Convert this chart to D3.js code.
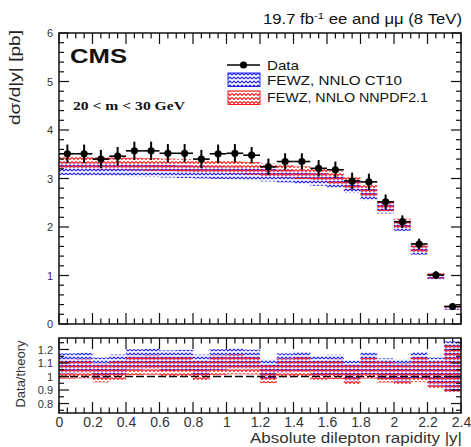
<!DOCTYPE html>
<html>
<head>
<meta charset="utf-8">
<script src="https://cdn.jsdelivr.net/npm/d3@7"></script>
<style>
  html, body { margin: 0; padding: 0; background: #fff; }
  svg { display: block; }
  text { font-family: "Liberation Sans", Arial, Helvetica, sans-serif; }
</style>
</head>
<body>
<div id="chart"></div>
<script>
// Drell-Yan differential cross section in |y|, 20 < m < 30 GeV
const binEdges = [0, 0.1, 0.2, 0.3, 0.4, 0.5, 0.6, 0.7, 0.8, 0.9, 1.0, 1.1, 1.2,
                  1.3, 1.4, 1.5, 1.6, 1.7, 1.8, 1.9, 2.0, 2.1, 2.2, 2.3, 2.4];
const dataVal = [3.51, 3.51, 3.40, 3.46, 3.57, 3.57, 3.52, 3.52, 3.40, 3.51, 3.52, 3.48,
                 3.24, 3.35, 3.35, 3.21, 3.18, 2.95, 2.93, 2.52, 2.11, 1.65, 1.01, 0.36];
const dataErr = [0.19, 0.19, 0.19, 0.19, 0.19, 0.19, 0.19, 0.19, 0.19, 0.19, 0.19, 0.17,
                 0.17, 0.17, 0.17, 0.17, 0.17, 0.17, 0.17, 0.15, 0.13, 0.11, 0.08, 0.045];
const ct10Val = [3.20, 3.19, 3.19, 3.18, 3.17, 3.16, 3.15, 3.14, 3.13, 3.12, 3.11, 3.09,
                 3.07, 3.05, 3.02, 2.98, 2.93, 2.83, 2.67, 2.39, 2.02, 1.52, 0.975, 0.335];
const ct10Err = [0.13, 0.13, 0.13, 0.13, 0.13, 0.13, 0.13, 0.13, 0.13, 0.13, 0.13, 0.13,
                 0.13, 0.13, 0.13, 0.13, 0.13, 0.13, 0.12, 0.11, 0.10, 0.09, 0.06, 0.04];
const nnpdfVal = [3.33, 3.32, 3.31, 3.31, 3.30, 3.29, 3.28, 3.27, 3.25, 3.24, 3.23, 3.21,
                  3.18, 3.15, 3.12, 3.07, 3.02, 2.90, 2.76, 2.44, 2.07, 1.57, 1.00, 0.34];
const nnpdfErr = [0.13, 0.13, 0.13, 0.13, 0.13, 0.13, 0.13, 0.13, 0.13, 0.13, 0.13, 0.13,
                  0.13, 0.13, 0.13, 0.13, 0.13, 0.13, 0.12, 0.11, 0.10, 0.09, 0.06, 0.04];

const xTicks = [0, 0.2, 0.4, 0.6, 0.8, 1, 1.2, 1.4, 1.6, 1.8, 2, 2.2, 2.4];
const yTopTicks = [0, 1, 2, 3, 4, 5, 6];
const ratioTicks = [0.8, 0.9, 1, 1.1, 1.2];

const W = 471, H = 447;
const svg = d3.select("#chart").append("svg").attr("width", W).attr("height", H);
svg.append("rect").attr("width", W).attr("height", H).attr("fill", "#fff");

// hatched fills for the theory bands
const defs = svg.append("defs");
function hatch(id, color, d) {
  const p = defs.append("pattern").attr("id", id)
    .attr("patternUnits", "userSpaceOnUse").attr("width", 4).attr("height", 4);
  p.append("path").attr("d", d).attr("stroke", color)
    .attr("stroke-width", 1.1).attr("fill", "none");
}
hatch("hatchBlue", "#2020ff", "M0,3 L2,1 L4,3");
hatch("hatchRed", "#ff1a1a", "M0,1.5 L2,3.5 L4,1.5");

const L = 59, R = 461;
const x = d3.scaleLinear().domain([0, 2.4]).range([L, R]);
const yTop = d3.scaleLinear().domain([0, 6]).range([324, 33]);
const yRat = d3.scaleLinear().domain([0.73, 1.285]).range([413, 338]);

const bins = dataVal.map((v, i) => ({
  lo: binEdges[i], hi: binEdges[i + 1], c: (binEdges[i] + binEdges[i + 1]) / 2,
  d: v, de: dataErr[i],
  ct: ct10Val[i], cte: ct10Err[i], nn: nnpdfVal[i], nne: nnpdfErr[i]
}));

function frameAxes(g, y, yMajor, yMinor, yTopPx, yBotPx, yFmt) {
  // x minor / major ticks on both edges
  const xMinor = d3.range(0, 2.4001, 0.05);
  [[yBotPx, 1], [yTopPx, -1]].forEach(([yy, dir]) => {
    g.append("g").selectAll("line").data(xMinor).join("line")
      .attr("x1", d => x(d)).attr("x2", d => x(d))
      .attr("y1", yy).attr("y2", d => yy - dir * (Math.abs(d * 5 - Math.round(d * 5)) < 1e-6 ? 11 : 5.5))
      .attr("stroke", "#111").attr("stroke-width", 1.2);
  });
  [[L, 1], [R, -1]].forEach(([xx, dir]) => {
    g.append("g").selectAll("line").data(yMinor).join("line")
      .attr("x1", xx).attr("y1", d => y(d)).attr("y2", d => y(d))
      .attr("x2", d => xx + dir * (yMajor.some(m => Math.abs(m - d) < 1e-6) ? 10 : 5))
      .attr("stroke", "#111").attr("stroke-width", 1.2);
  });
  g.append("rect").attr("x", L).attr("y", yTopPx).attr("width", R - L).attr("height", yBotPx - yTopPx)
    .attr("fill", "none").attr("stroke", "#111").attr("stroke-width", 1.5);
  const ax = d3.axisLeft(y).tickValues(yMajor).tickSize(0).tickPadding(6).tickFormat(yFmt);
  const ga = g.append("g").attr("transform", `translate(${L},0)`).call(ax);
  ga.select(".domain").remove();
  return ga;
}

// text helper: fixed drawn width, as in the wide ROOT Helvetica
function label(sel, x0, y0, size, len, str, anchor) {
  return sel.append("text").attr("x", x0).attr("y", y0).attr("font-size", size)
    .attr("text-anchor", anchor || "start")
    .attr("textLength", len).attr("lengthAdjust", "spacingAndGlyphs")
    .attr("fill", "#111").text(str);
}

// ---------- upper panel ----------
const upper = svg.append("g");
upper.selectAll(".bandB").data(bins).join("rect")
  .attr("x", d => x(d.lo)).attr("width", d => x(d.hi) - x(d.lo))
  .attr("y", d => yTop(d.ct + d.cte)).attr("height", d => yTop(d.ct - d.cte) - yTop(d.ct + d.cte))
  .attr("fill", "url(#hatchBlue)");
upper.selectAll(".bandR").data(bins).join("rect")
  .attr("x", d => x(d.lo)).attr("width", d => x(d.hi) - x(d.lo))
  .attr("y", d => yTop(d.nn + d.nne)).attr("height", d => yTop(d.nn - d.nne) - yTop(d.nn + d.nne))
  .attr("fill", "url(#hatchRed)");

const yTopMinor = d3.range(0, 6.0001, 0.2);
const gTopAx = frameAxes(upper, yTop, yTopTicks, yTopMinor, 33, 324, d3.format("d"));
gTopAx.selectAll("text").attr("font-size", 11).attr("fill", "#333");

// data points
const pts = upper.append("g");
pts.selectAll(".eh").data(bins).join("line")
  .attr("x1", d => x(d.lo)).attr("x2", d => x(d.hi))
  .attr("y1", d => yTop(d.d)).attr("y2", d => yTop(d.d))
  .attr("stroke", "#000").attr("stroke-width", 1.6);
pts.selectAll(".ev").data(bins).join("line")
  .attr("x1", d => x(d.c)).attr("x2", d => x(d.c))
  .attr("y1", d => yTop(d.d + d.de)).attr("y2", d => yTop(d.d - d.de))
  .attr("stroke", "#000").attr("stroke-width", 2);
pts.selectAll("circle").data(bins).join("circle")
  .attr("cx", d => x(d.c)).attr("cy", d => yTop(d.d)).attr("r", 3.6).attr("fill", "#000");

// labels
svg.append("text").attr("x", 462).attr("y", 24).attr("text-anchor", "end")
  .attr("font-size", 14).attr("fill", "#111")
  .attr("textLength", 199).attr("lengthAdjust", "spacingAndGlyphs")
  .call(t => {
    t.append("tspan").text("19.7 fb");
    t.append("tspan").attr("dy", -5).attr("font-size", 9.5).text("-1");
    t.append("tspan").attr("dy", 5).text(" ee and μμ (8 TeV)");
  });
label(svg, 70, 63, 19.5, 57, "CMS").attr("font-weight", "bold");
label(svg, 73, 110, 12.5, 112, "20 < m < 30 GeV")
  .style("font-family", "'Liberation Serif', 'Times New Roman', serif")
  .attr("font-weight", "bold");
svg.append("text").attr("transform", "translate(20,30) rotate(-90)").attr("text-anchor", "end")
  .attr("font-size", 15).attr("textLength", 95).attr("lengthAdjust", "spacingAndGlyphs")
  .attr("fill", "#222").text("dσ/d|y| [pb]");

// legend
const leg = svg.append("g");
leg.append("line").attr("x1", 227).attr("x2", 260).attr("y1", 65).attr("y2", 65)
  .attr("stroke", "#000").attr("stroke-width", 1.6);
leg.append("circle").attr("cx", 243.5).attr("cy", 65).attr("r", 3.6).attr("fill", "#000");
label(leg, 267, 70, 13.5, 32, "Data");
leg.append("rect").attr("x", 228).attr("y", 73).attr("width", 32).attr("height", 13.5)
  .attr("fill", "url(#hatchBlue)").attr("stroke", "#2020ff").attr("stroke-width", 1);
label(leg, 267, 84.5, 13.5, 135, "FEWZ, NNLO CT10");
leg.append("rect").attr("x", 228).attr("y", 91).attr("width", 32).attr("height", 13.5)
  .attr("fill", "url(#hatchRed)").attr("stroke", "#ff1a1a").attr("stroke-width", 1);
label(leg, 267, 102, 13.5, 161, "FEWZ, NNLO NNPDF2.1");

// ---------- ratio panel ----------
const rat = svg.append("g");
function relErr(d, t, te) {
  return Math.sqrt((d.de / d.d) ** 2 + (te / t) ** 2);
}
rat.selectAll(".rB").data(bins).join("rect")
  .attr("x", d => x(d.lo)).attr("width", d => x(d.hi) - x(d.lo))
  .attr("y", d => { const r = d.d / d.ct; return yRat(r * (1 + relErr(d, d.ct, d.cte))); })
  .attr("height", d => { const r = d.d / d.ct, e = relErr(d, d.ct, d.cte);
    return yRat(r * (1 - e)) - yRat(r * (1 + e)); })
  .attr("fill", "url(#hatchBlue)");
rat.selectAll(".rR").data(bins).join("rect")
  .attr("x", d => x(d.lo)).attr("width", d => x(d.hi) - x(d.lo))
  .attr("y", d => { const r = d.d / d.nn; return yRat(r * (1 + relErr(d, d.nn, d.nne))); })
  .attr("height", d => { const r = d.d / d.nn, e = relErr(d, d.nn, d.nne);
    return yRat(r * (1 - e)) - yRat(r * (1 + e)); })
  .attr("fill", "url(#hatchRed)");
rat.append("line").attr("x1", L).attr("x2", R).attr("y1", yRat(1)).attr("y2", yRat(1))
  .attr("stroke", "#000").attr("stroke-width", 1.5).attr("stroke-dasharray", "8,3");

const ratMinor = d3.range(0.75, 1.2801, 0.05);
const gRatAx = frameAxes(rat, yRat, ratioTicks, ratMinor, 338, 413, d => d3.format("")(+d.toFixed(1)));
gRatAx.selectAll("text").attr("font-size", 11).attr("fill", "#333");

const gx = rat.append("g").attr("transform", "translate(0,413)")
  .call(d3.axisBottom(x).tickValues(xTicks).tickSize(0).tickPadding(4)
    .tickFormat(d => d3.format("")(+d.toFixed(1))));
gx.select(".domain").remove();
gx.selectAll("text").attr("font-size", 14).attr("fill", "#333");

svg.append("text").attr("transform", "translate(25,374) rotate(-90)").attr("text-anchor", "middle")
  .attr("font-size", 12.5).attr("textLength", 67).attr("lengthAdjust", "spacingAndGlyphs")
  .attr("fill", "#333").text("Data/theory");
label(svg, 462, 443, 14, 212, "Absolute dilepton rapidity |y|", "end").attr("fill", "#333");
</script>
</body>
</html>
